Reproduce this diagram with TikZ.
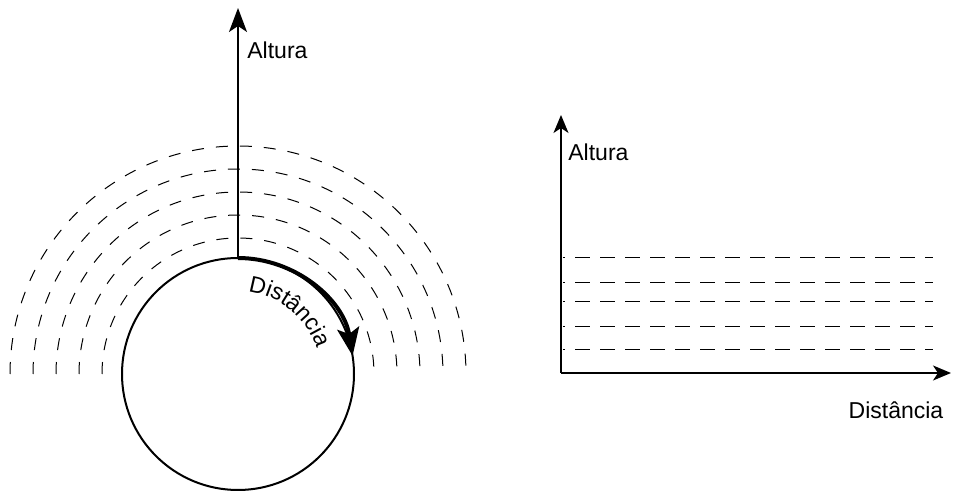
\documentclass[tikz,border=0pt]{standalone}
\usepackage{fontspec}
\setmainfont{Liberation Sans}
\usetikzlibrary{arrows.meta,decorations.text,calc}
\newcommand\lblfont{\fontsize{11.5}{14}\selectfont}
\begin{document}
\begin{tikzpicture}[x=0.5pt,y=0.5pt,
  lbl/.style={font=\lblfont, inner sep=0pt},
  axisbig/.style={line width=1pt, -{Stealth[length=12pt,width=9pt,inset=3pt]}},
  axissmall/.style={line width=1pt, -{Stealth[length=9pt,width=7.5pt,inset=2.5pt]}},
  distarrow/.style={line width=2pt, -{Stealth[length=14pt,width=11pt,inset=3pt]}},
  guidearc/.style={line width=0.5pt, dash pattern=on 6pt off 6pt},
  guideline/.style={line width=0.5pt, dash pattern=on 7.5pt off 5pt, dash phase=6.5pt}]
\useasboundingbox (0,0) rectangle (955,493);
% left panel
\coordinate (c) at (238,119);
\coordinate (top) at (238,235);
\coordinate (ytip) at (238,485);
\foreach \r in {136,159,182,205,228}
  \draw[guidearc] ($(c)+(180:\r)$) arc[start angle=180,end angle=0,radius=\r];
\draw[line width=1pt] (c) circle[radius=116];
\draw[axisbig] (top) -- (ytip);
\node[lbl, anchor=west] (altL) at (247,443) {Altura};
\draw[distarrow] (top) arc[start angle=90,end angle=9,radius=116];
\path[decorate, decoration={text along path, text={|\lblfont|Distância}, text align=left}]
  ($(c)+(83:83)$) arc[start angle=83,end angle=0,radius=83];
% right panel
\coordinate (o) at (561,120);
\coordinate (ry) at (561,378);
\coordinate (rx) at (951,120);
\foreach \y in {235,210,191,166,143}
  \draw[guideline] (563,\y) -- (933,\y);
\draw[axissmall] (o) -- (ry);
\draw[axissmall] (o) -- (rx);
\node[lbl, anchor=west] (altR) at (568,341) {Altura};
\node[lbl] (distR) at (896,83) {Distância};
\end{tikzpicture}
\end{document}
